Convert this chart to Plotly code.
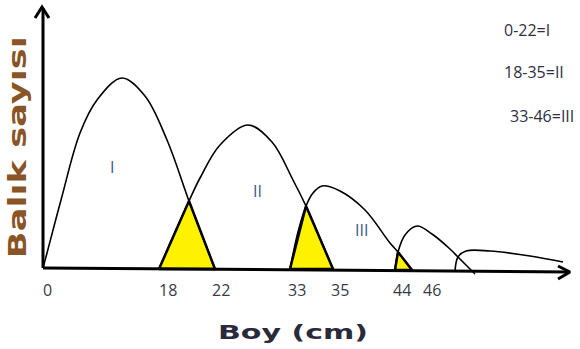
import plotly.graph_objects as go

# ---- data (diagram coordinates: x to the right, y downward) ----
curve1_x = [43, 47, 61, 80, 97, 122, 145, 167, 189, 203, 215]
curve1_y = [268, 253, 200, 133, 100, 78, 96, 140, 201, 238, 269]

curve2_x = [159, 175, 189, 200, 220, 248, 272, 293, 306, 320, 333]
curve2_y = [269, 232, 201, 178, 145, 125, 142, 180, 206, 238, 269]

curve3_x = [290, 298, 306, 313, 322, 340, 365, 390, 398, 405, 412]
curve3_y = [269, 232, 206, 193, 186, 191, 210, 243, 252, 261, 270]

curve4_x = [395, 398, 405, 417, 432, 450, 458, 467, 475]
curve4_y = [270, 252, 235, 226, 234, 249, 257, 266, 274]

curve5_x = [455, 458, 466, 490, 530, 563]
curve5_y = [271, 257, 251, 251, 256, 262]

tri1_x = [159, 189, 215]
tri1_y = [269, 201, 269]
tri2_x = [290, 306, 333]
tri2_y = [269, 206, 269]
tri3_x = [395, 398, 412]
tri3_y = [270, 252, 270]

axis_y_x = [43, 43]
axis_y_y = [268, 8]
axis_x_x = [43, 570]
axis_x_y = [268, 272]
arrow_y_x = [35, 42, 49]
arrow_y_y = [18, 7, 18]
arrow_x_x = [558, 570, 558]
arrow_x_y = [266, 272, 279]

tick_labels = ["0", "18", "22", "33", "35", "44", "46"]
tick_x = [47, 168, 221, 297, 340, 402, 432]
tick_yp = 290

group_labels = ["I", "II", "III"]
group_x = [112, 257, 361]
group_y = [167, 191, 230]

legend_lines = ["0-22=I", "18-35=II", "33-46=III"]
legend_x = [527, 534, 542]
legend_y = [30, 72, 116]

x_title = "Boy (cm)"
y_title = "Balık sayısı"

fig = go.Figure()

# yellow overlap triangles
for tx, ty in [(tri1_x, tri1_y), (tri2_x, tri2_y), (tri3_x, tri3_y)]:
    fig.add_trace(go.Scatter(x=tx + [tx[0]], y=ty + [ty[0]], mode="lines", fill="toself",
                             fillcolor="#FFF200", line=dict(color="black", width=2.5),
                             hoverinfo="skip"))

# curves
for cx, cy in [(curve1_x, curve1_y), (curve2_x, curve2_y), (curve3_x, curve3_y),
               (curve4_x, curve4_y), (curve5_x, curve5_y)]:
    fig.add_trace(go.Scatter(x=cx, y=cy, mode="lines",
                             line=dict(color="black", width=1.6, shape="spline", smoothing=1.0),
                             hoverinfo="skip"))

# axes with arrows
for ax_, ay_ in [(axis_y_x, axis_y_y), (axis_x_x, axis_x_y), (arrow_y_x, arrow_y_y), (arrow_x_x, arrow_x_y)]:
    fig.add_trace(go.Scatter(x=ax_, y=ay_, mode="lines", line=dict(color="black", width=3),
                             hoverinfo="skip"))

anns = []
for t, x in zip(tick_labels, tick_x):
    anns.append(dict(x=x, y=tick_yp, text=t, showarrow=False,
                     font=dict(family="Open Sans", size=16, color="#3a3a48")))
for t, x, y in zip(group_labels, group_x, group_y):
    anns.append(dict(x=x, y=y, text=t, showarrow=False,
                     font=dict(family="Open Sans", size=16, color="#3b5a86")))
for t, x, y in zip(legend_lines, legend_x, legend_y):
    anns.append(dict(x=x, y=y, text=t, showarrow=False,
                     font=dict(family="Open Sans", size=16, color="#2f2f3f")))
anns.append(dict(x=293, y=332, text=x_title, showarrow=False,
                 font=dict(family="DejaVu Sans", size=20, color="#2a2a3a", weight="bold")))
anns.append(dict(x=17, y=147, text=y_title, showarrow=False, textangle=-90,
                 font=dict(family="DejaVu Sans", size=25, color="#8a5526", weight="bold")))

fig.update_layout(
    width=580, height=349,
    margin=dict(l=0, r=0, t=0, b=0),
    paper_bgcolor="white", plot_bgcolor="white",
    showlegend=False,
    xaxis=dict(range=[0, 580], visible=False, fixedrange=True),
    yaxis=dict(range=[349, 0], visible=False, fixedrange=True),
    annotations=anns,
)

post = """
document.body.style.margin = '0';
document.body.style.padding = '0';
var stretch = {'Boy (cm)': 150, 'Balık sayısı': 222};
document.querySelectorAll('text.annotation-text').forEach(function(el){
  var s = stretch[el.textContent];
  if (s) {
    el.setAttribute('textLength', s);
    el.setAttribute('lengthAdjust', 'spacingAndGlyphs');
  }
});
"""

fig.write_html("out.html", post_script=post, config={"displayModeBar": False})
